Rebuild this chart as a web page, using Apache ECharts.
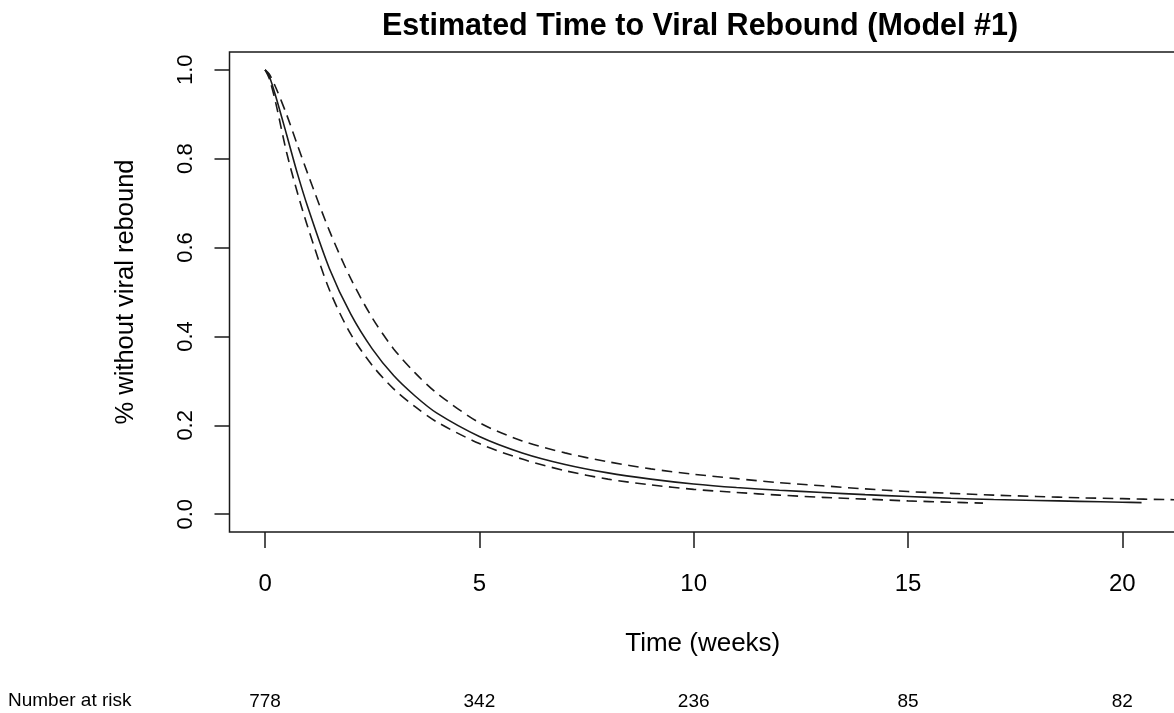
<!DOCTYPE html>
<html>
<head>
<meta charset="utf-8">
<script src="https://cdn.jsdelivr.net/npm/echarts@6/dist/echarts.min.js"></script>
<style>
html,body{margin:0;padding:0;background:#fff;}
#chart{width:1174px;height:713px;}
</style>
</head>
<body>
<div id="chart"></div>
<script>
// ---- data ----
const titleText = 'Estimated Time to Viral Rebound (Model #1)';
const xAxisTitle = 'Time (weeks)';
const yAxisTitle = '% without viral rebound';
const xTicks = [0, 5, 10, 15, 20];
const yTicks = [0, 0.2, 0.4, 0.6, 0.8, 1.0];
const riskTimes = [0, 5, 10, 15, 20];
const riskCounts = [778, 342, 236, 85, 82];
const riskLabel = 'Number at risk';

// estimated survival curve (solid)
const timeEst = [0, 0.1, 0.25, 0.5, 0.75, 1.0, 1.5, 2.0, 2.5, 3.0, 3.5, 4.0, 5.0, 6.0, 7.0, 8.0, 9.0, 10.0, 11.0, 12.0, 13.0, 14.0, 15.0, 16.0, 17.0, 18.0, 19.0, 20.0, 20.45];
const survEst = [1.0, 0.985, 0.94, 0.855, 0.768, 0.69, 0.553, 0.45, 0.372, 0.312, 0.266, 0.228, 0.175, 0.138, 0.112, 0.093, 0.079, 0.068, 0.060, 0.054, 0.049, 0.044, 0.040, 0.036, 0.033, 0.031, 0.029, 0.027, 0.026];

// upper confidence bound (dashed)
const timeUpper = [0, 0.1, 0.25, 0.5, 0.75, 1.0, 1.5, 2.0, 2.5, 3.0, 3.5, 4.0, 5.0, 6.0, 7.0, 8.0, 9.0, 10.0, 11.0, 12.0, 13.0, 14.0, 15.0, 16.0, 17.0, 18.0, 19.0, 20.0, 21.0, 21.6];
const survUpper = [1.0, 0.99, 0.96, 0.9, 0.832, 0.765, 0.638, 0.53, 0.442, 0.372, 0.318, 0.273, 0.206, 0.165, 0.138, 0.118, 0.102, 0.09, 0.08, 0.071, 0.064, 0.057, 0.051, 0.047, 0.043, 0.040, 0.037, 0.035, 0.033, 0.032];

// lower confidence bound (dashed)
const timeLower = [0, 0.1, 0.25, 0.5, 0.75, 1.0, 1.5, 2.0, 2.5, 3.0, 3.5, 4.0, 5.0, 6.0, 7.0, 8.0, 9.0, 10.0, 11.0, 12.0, 13.0, 14.0, 15.0, 16.0, 16.75];
const survLower = [1.0, 0.98, 0.925, 0.815, 0.725, 0.645, 0.505, 0.405, 0.335, 0.282, 0.242, 0.208, 0.159, 0.124, 0.098, 0.079, 0.066, 0.056, 0.049, 0.043, 0.038, 0.034, 0.030, 0.027, 0.025];

const pairs = (xs, ys) => xs.map((x, i) => [x, ys[i]]);

const FONT = '"Liberation Sans", Arial, Helvetica, sans-serif';
const INK = '#1a1a1a';
const X_MIN = -0.83, X_MAX = 21.58;
const Y_MIN = -0.04, Y_MAX = 1.04;

const chart = echarts.init(document.getElementById('chart'), null, {renderer: 'canvas'});

const lineSeries = (name, data, dashed) => ({
  name: name,
  type: 'line',
  data: data,
  showSymbol: false,
  symbol: 'none',
  smooth: 0.3,
  xAxisIndex: 0,
  yAxisIndex: 0,
  lineStyle: {color: INK, width: 1.6, type: dashed ? [10.5, 6.5] : 'solid'},
  silent: true,
  animation: false
});

chart.setOption({
  animation: false,
  backgroundColor: '#ffffff',
  textStyle: {fontFamily: FONT, color: INK},
  title: {
    text: titleText,
    left: 695,
    top: 6,
    textAlign: 'center',
    textStyle: {fontFamily: FONT, fontSize: 30.5, fontWeight: 'bold', color: '#000'}
  },
  grid: {
    left: 229.5,
    top: 52,
    width: 960.5,
    bottom: 181,
    outerBoundsMode: 'none',
    show: true,
    borderColor: INK,
    borderWidth: 1.5,
    backgroundColor: 'transparent',
    containLabel: false
  },
  graphic: [{
    type: 'text',
    left: 8,
    top: 691,
    style: {text: riskLabel, font: '19px ' + FONT, fill: '#000'}
  }],
  xAxis: [{
    type: 'value',
    min: X_MIN,
    max: X_MAX,
    position: 'bottom',
    name: xAxisTitle,
    nameLocation: 'middle',
    nameGap: 99,
    nameTextStyle: {fontFamily: FONT, fontSize: 26, color: '#000', padding: [0, 14, 0, 0]},
    splitLine: {show: false},
    axisLine: {show: false, onZero: false},
    axisTick: {show: true, inside: false, length: 16, customValues: xTicks, lineStyle: {color: INK, width: 1.5}},
    axisLabel: {show: true, customValues: xTicks, margin: 40, fontFamily: FONT, fontSize: 24, color: '#000',
      formatter: v => String(v)}
  }, {
    type: 'value',
    min: X_MIN,
    max: X_MAX,
    position: 'bottom',
    gridIndex: 0,
    splitLine: {show: false},
    axisLine: {show: false, onZero: false},
    axisTick: {show: false},
    axisLabel: {show: true, customValues: riskTimes, margin: 160, fontFamily: FONT, fontSize: 19, color: '#000',
      formatter: v => { const i = riskTimes.indexOf(v); return i >= 0 ? String(riskCounts[i]) : ''; }}
  }],
  yAxis: [{
    type: 'value',
    min: Y_MIN,
    max: Y_MAX,
    name: yAxisTitle,
    nameLocation: 'middle',
    nameGap: 91,
    nameRotate: 90,
    nameTextStyle: {fontFamily: FONT, fontSize: 25.5, color: '#000'},
    splitLine: {show: false},
    axisLine: {show: false, onZero: false},
    axisTick: {show: true, inside: false, length: 15, customValues: yTicks, lineStyle: {color: INK, width: 1.5}},
    axisLabel: {show: true, customValues: yTicks, rotate: 90, margin: 33, fontFamily: FONT, fontSize: 22, color: '#000',
      formatter: v => Number(v).toFixed(1)}
  }],
  series: [
    lineSeries('Estimate', pairs(timeEst, survEst), false),
    lineSeries('Upper', pairs(timeUpper, survUpper), true),
    lineSeries('Lower', pairs(timeLower, survLower), true)
  ]
});
</script>
</body>
</html>
